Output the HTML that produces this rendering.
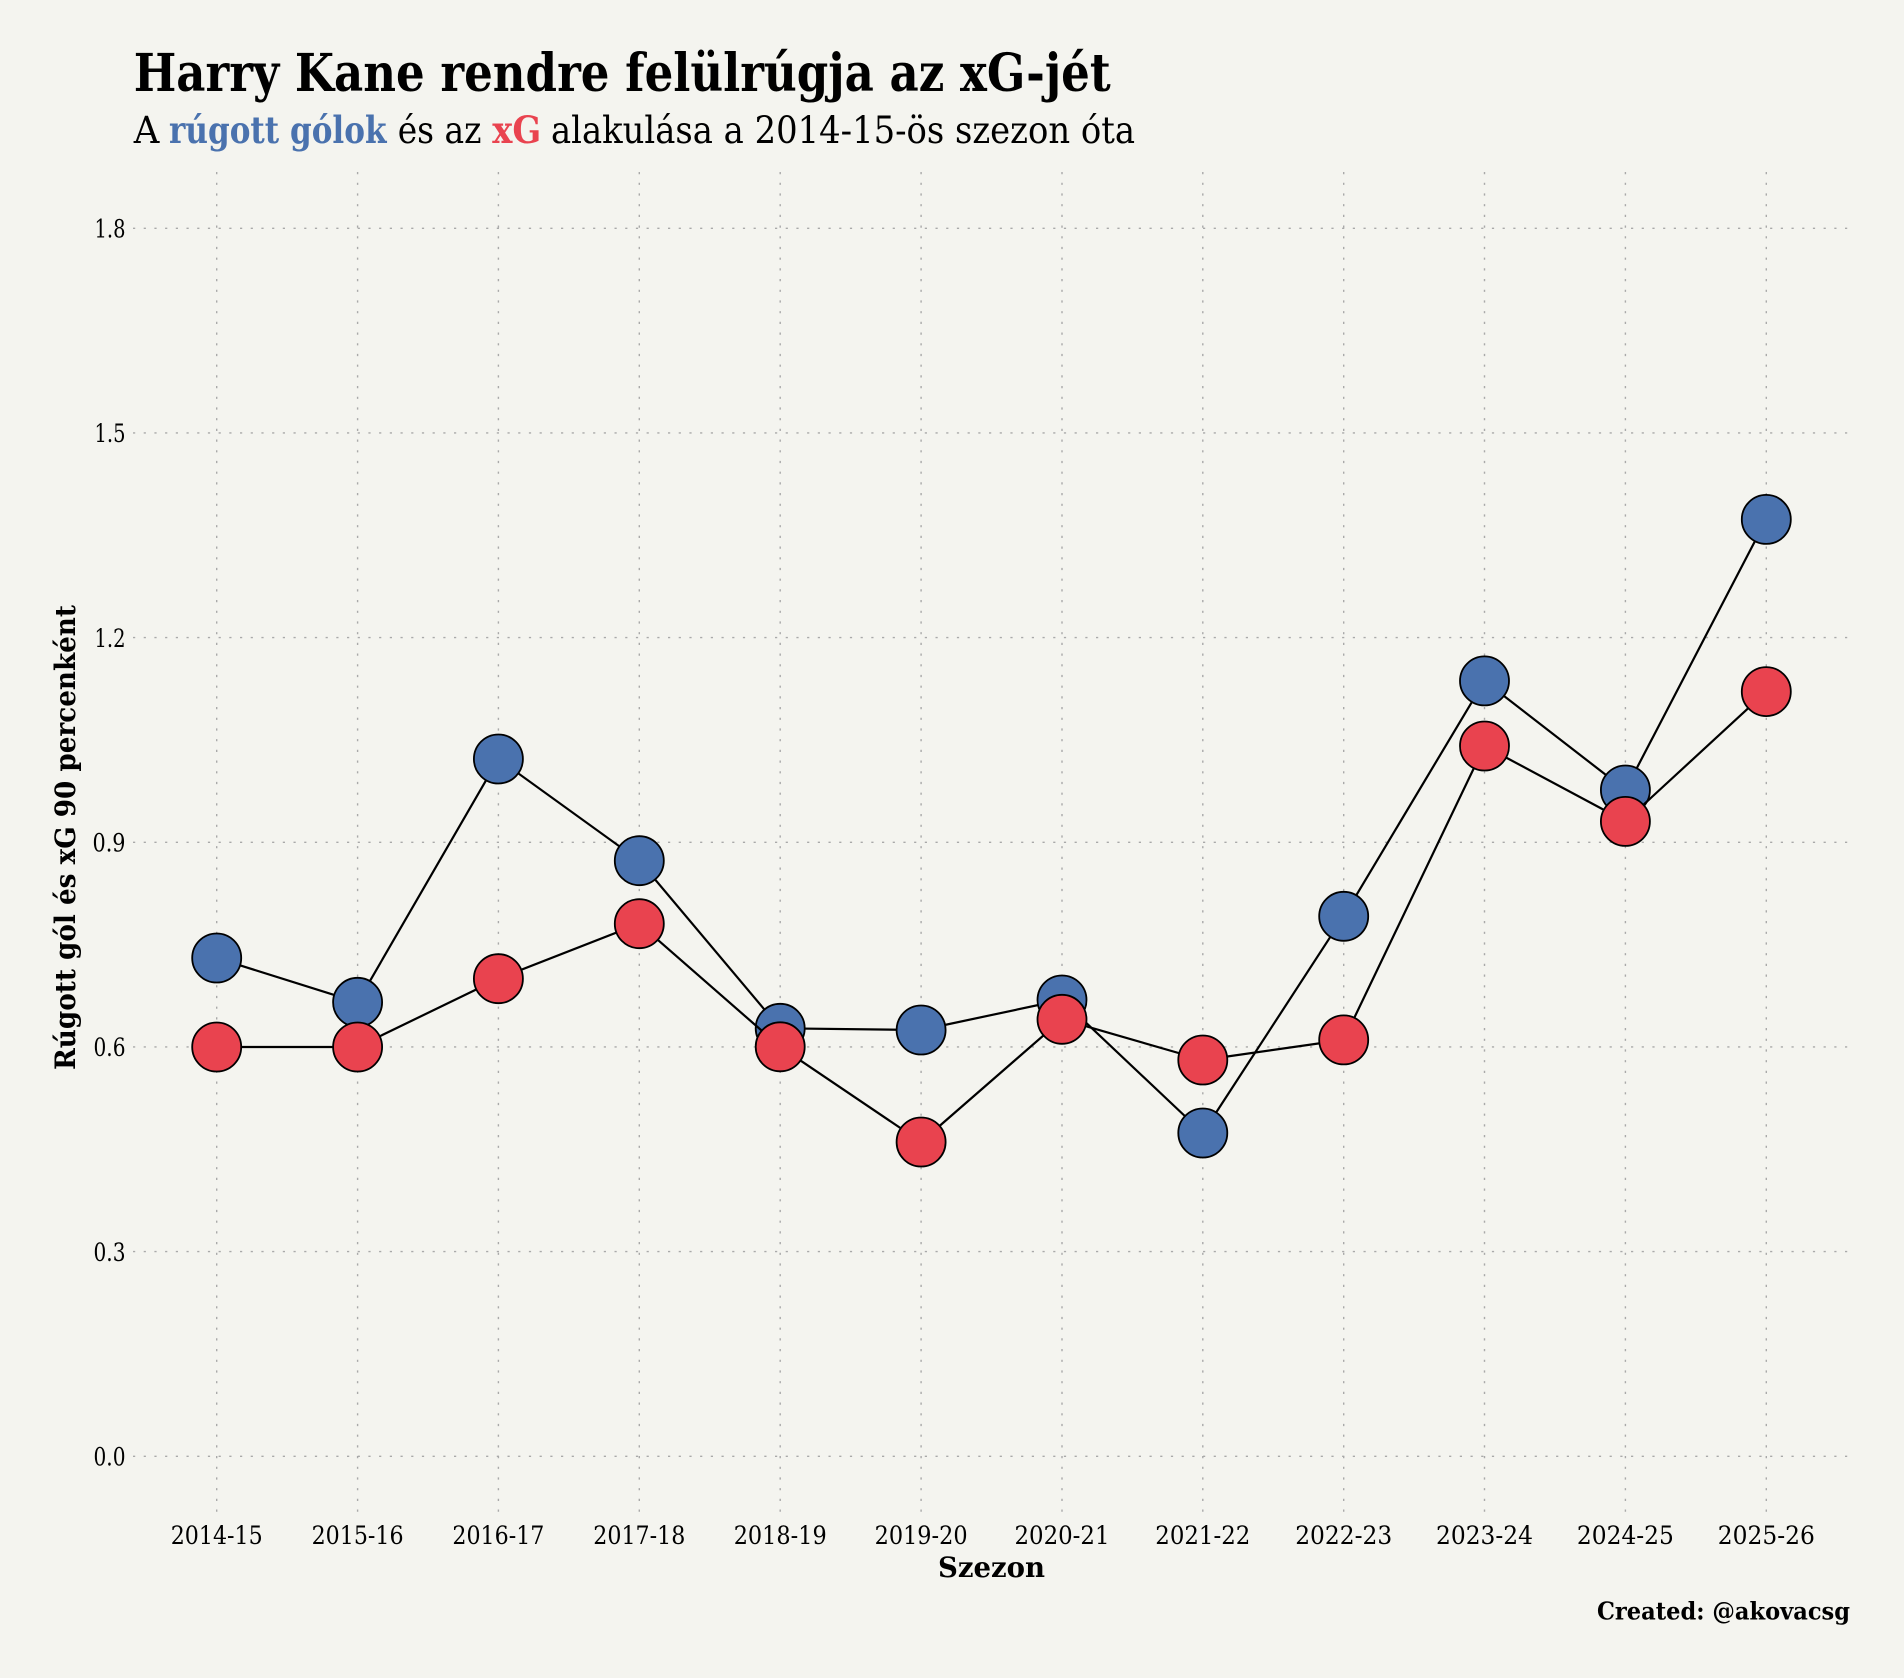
<!DOCTYPE html>
<html>
<head>
<meta charset="utf-8">
<style>
  html, body { margin: 0; padding: 0; background: #f4f4ef; }
  svg { display: block; }
  text { font-family: "DejaVu Serif", "Liberation Serif", serif; fill: #000; }
</style>
</head>
<body>
<svg width="1904" height="1678" viewBox="0 0 1904 1678" xmlns="http://www.w3.org/2000/svg">
  <rect x="0" y="0" width="1904" height="1678" fill="#f4f4ef"/>

  <!-- Title -->
  <text x="133.7" y="91" font-size="52" font-weight="bold" textLength="977" lengthAdjust="spacingAndGlyphs">Harry Kane rendre felülrúgja az xG-jét</text>

  <!-- Subtitle -->
  <text x="133.7" y="143" font-size="37" textLength="25.6" lengthAdjust="spacingAndGlyphs">A</text>
  <text x="169" y="143" font-size="37" font-weight="bold" style="fill:#4a72ae" textLength="217.5" lengthAdjust="spacingAndGlyphs">rúgott gólok</text>
  <text x="397.7" y="143" font-size="37" textLength="83.8" lengthAdjust="spacingAndGlyphs">és az</text>
  <text x="492.3" y="143" font-size="37" font-weight="bold" style="fill:#e9434f" textLength="49" lengthAdjust="spacingAndGlyphs">xG</text>
  <text x="551" y="143" font-size="37" textLength="584" lengthAdjust="spacingAndGlyphs">alakulása a 2014-15-ös szezon óta</text>

  <!-- Grid -->
  <g stroke="#a9a9a9" stroke-width="1.4" stroke-dasharray="2.2 8.5" fill="none">
    <line x1="133" y1="1456.3" x2="1851" y2="1456.3"/>
    <line x1="133" y1="1251.6" x2="1851" y2="1251.6"/>
    <line x1="133" y1="1046.9" x2="1851" y2="1046.9"/>
    <line x1="133" y1="842.3" x2="1851" y2="842.3"/>
    <line x1="133" y1="637.6" x2="1851" y2="637.6"/>
    <line x1="133" y1="432.9" x2="1851" y2="432.9"/>
    <line x1="133" y1="228.3" x2="1851" y2="228.3"/>

    <line x1="216.7" y1="172" x2="216.7" y2="1517"/>
    <line x1="357.6" y1="172" x2="357.6" y2="1517"/>
    <line x1="498.4" y1="172" x2="498.4" y2="1517"/>
    <line x1="639.3" y1="172" x2="639.3" y2="1517"/>
    <line x1="780.2" y1="172" x2="780.2" y2="1517"/>
    <line x1="921.1" y1="172" x2="921.1" y2="1517"/>
    <line x1="1062.0" y1="172" x2="1062.0" y2="1517"/>
    <line x1="1202.8" y1="172" x2="1202.8" y2="1517"/>
    <line x1="1343.7" y1="172" x2="1343.7" y2="1517"/>
    <line x1="1484.5" y1="172" x2="1484.5" y2="1517"/>
    <line x1="1625.4" y1="172" x2="1625.4" y2="1517"/>
    <line x1="1766.3" y1="172" x2="1766.3" y2="1517"/>
  </g>

  <!-- Y tick labels -->
  <g font-size="25" text-anchor="end">
    <text x="125.5" y="1465.6" textLength="32" lengthAdjust="spacingAndGlyphs">0.0</text>
    <text x="125.5" y="1260.9" textLength="32" lengthAdjust="spacingAndGlyphs">0.3</text>
    <text x="125.5" y="1056.2" textLength="32" lengthAdjust="spacingAndGlyphs">0.6</text>
    <text x="125.5" y="851.6" textLength="33" lengthAdjust="spacingAndGlyphs">0.9</text>
    <text x="125.5" y="646.9" textLength="31" lengthAdjust="spacingAndGlyphs">1.2</text>
    <text x="125.5" y="442.2" textLength="31" lengthAdjust="spacingAndGlyphs">1.5</text>
    <text x="125.5" y="237.6" textLength="31" lengthAdjust="spacingAndGlyphs">1.8</text>
  </g>

  <!-- X tick labels -->
  <g font-size="25" text-anchor="middle">
    <text x="216.7" y="1544" textLength="92" lengthAdjust="spacingAndGlyphs">2014-15</text>
    <text x="357.6" y="1544" textLength="92" lengthAdjust="spacingAndGlyphs">2015-16</text>
    <text x="498.4" y="1544" textLength="92" lengthAdjust="spacingAndGlyphs">2016-17</text>
    <text x="639.3" y="1544" textLength="92" lengthAdjust="spacingAndGlyphs">2017-18</text>
    <text x="780.2" y="1544" textLength="93" lengthAdjust="spacingAndGlyphs">2018-19</text>
    <text x="921.1" y="1544" textLength="93" lengthAdjust="spacingAndGlyphs">2019-20</text>
    <text x="1062.0" y="1544" textLength="95" lengthAdjust="spacingAndGlyphs">2020-21</text>
    <text x="1202.8" y="1544" textLength="95" lengthAdjust="spacingAndGlyphs">2021-22</text>
    <text x="1343.7" y="1544" textLength="97" lengthAdjust="spacingAndGlyphs">2022-23</text>
    <text x="1484.5" y="1544" textLength="97" lengthAdjust="spacingAndGlyphs">2023-24</text>
    <text x="1625.4" y="1544" textLength="97" lengthAdjust="spacingAndGlyphs">2024-25</text>
    <text x="1766.3" y="1544" textLength="97" lengthAdjust="spacingAndGlyphs">2025-26</text>
  </g>

  <!-- Axis labels -->
  <text x="991.5" y="1577" font-size="28" font-weight="bold" text-anchor="middle" textLength="107" lengthAdjust="spacingAndGlyphs">Szezon</text>
  <text transform="translate(75,837.5) rotate(-90)" x="0" y="0" font-size="28" font-weight="bold" text-anchor="middle" textLength="465" lengthAdjust="spacingAndGlyphs">Rúgott gól és xG 90 percenként</text>

  <!-- Credit -->
  <text x="1850" y="1619.5" font-size="24" font-weight="bold" text-anchor="end" textLength="253" lengthAdjust="spacingAndGlyphs">Created: @akovacsg</text>

  <!-- Goals series (blue) -->
  <polyline fill="none" stroke="#000" stroke-width="2.2" stroke-linejoin="round"
    points="216.7,958 357.6,1002.3 498.4,759 639.3,860.7 780.2,1028.3 921.1,1030 1062.0,1000 1202.8,1133 1343.7,916.3 1484.5,680.9 1625.4,790 1766.3,519.4"/>
  <g fill="#4a72ae" stroke="#000" stroke-width="1.8">
    <circle cx="216.7" cy="958" r="24.5"/>
    <circle cx="357.6" cy="1002.3" r="24.5"/>
    <circle cx="498.4" cy="759" r="24.5"/>
    <circle cx="639.3" cy="860.7" r="24.5"/>
    <circle cx="780.2" cy="1028.3" r="24.5"/>
    <circle cx="921.1" cy="1030" r="24.5"/>
    <circle cx="1062.0" cy="1000" r="24.5"/>
    <circle cx="1202.8" cy="1133" r="24.5"/>
    <circle cx="1343.7" cy="916.3" r="24.5"/>
    <circle cx="1484.5" cy="680.9" r="24.5"/>
    <circle cx="1625.4" cy="790" r="24.5"/>
    <circle cx="1766.3" cy="519.4" r="24.5"/>
  </g>

  <!-- xG series (red) -->
  <polyline fill="none" stroke="#000" stroke-width="2.2" stroke-linejoin="round"
    points="216.7,1047 357.6,1047 498.4,978.7 639.3,923.7 780.2,1046.8 921.1,1142 1062.0,1019.3 1202.8,1060 1343.7,1039.9 1484.5,746 1625.4,821.4 1766.3,691.6"/>
  <g fill="#e9434f" stroke="#000" stroke-width="1.8">
    <circle cx="216.7" cy="1047" r="24.5"/>
    <circle cx="357.6" cy="1047" r="24.5"/>
    <circle cx="498.4" cy="978.7" r="24.5"/>
    <circle cx="639.3" cy="923.7" r="24.5"/>
    <circle cx="780.2" cy="1046.8" r="24.5"/>
    <circle cx="921.1" cy="1142" r="24.5"/>
    <circle cx="1062.0" cy="1019.3" r="24.5"/>
    <circle cx="1202.8" cy="1060" r="24.5"/>
    <circle cx="1343.7" cy="1039.9" r="24.5"/>
    <circle cx="1484.5" cy="746" r="24.5"/>
    <circle cx="1625.4" cy="821.4" r="24.5"/>
    <circle cx="1766.3" cy="691.6" r="24.5"/>
  </g>
</svg>
</body>
</html>
